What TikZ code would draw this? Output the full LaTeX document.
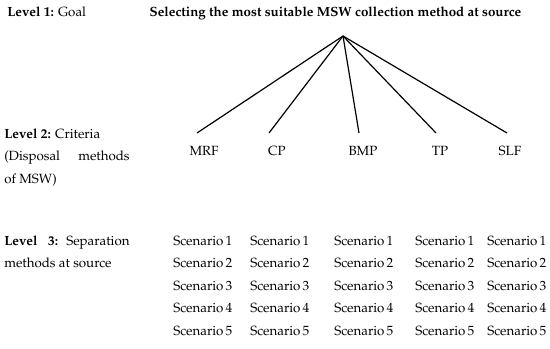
\documentclass[tikz,border=0pt]{standalone}
\usepackage[T1]{fontenc}
\usepackage{mathpazo}
\usetikzlibrary{positioning,calc}

\begin{document}
\begin{tikzpicture}[x=0.75pt, y=-0.75pt, font=\fontsize{10}{16.8}\selectfont]
  \tikzstyle{lvl}=[anchor=north west, inner sep=0pt, text width=94pt, align=justify]
  \tikzstyle{crit}=[anchor=base, inner sep=0pt]
  \tikzstyle{scen}=[anchor=base west, inner sep=0pt]
  \tikzstyle{branch}=[draw=black, line width=0.9pt]
  \useasboundingbox (0,0) rectangle (550,349);
  % level 1: goal
  \node[anchor=base west, inner sep=0pt] (lvl1) at (7,17) {\textbf{Level 1:} Goal};
  \node[crit] (goal) at (335.5,17) {\textbf{Selecting the most suitable MSW collection method at source}};
  \coordinate (apex) at (343,36);
  % level 2: criteria
  \node[lvl] (lvl2) at (4,128.5) {\textbf{Level 2:} Criteria\\(Disposal methods\linebreak of MSW)};
  \node[crit] (mrf) at (204,156) {MRF};
  \node[crit] (cp) at (277,156) {CP};
  \node[crit] (bmp) at (363,156) {BMP};
  \node[crit] (tp) at (440,156) {TP};
  \node[crit] (slf) at (510,156) {SLF};
  \draw[branch] (apex) -- ($(mrf.base)+(-7,-23)$);
  \draw[branch] (apex) -- ($(cp.base)+(-8,-23)$);
  \draw[branch] (apex) -- ($(bmp.base)+(-4,-23)$);
  \draw[branch] (apex) -- ($(tp.base)+(-4,-23)$);
  \draw[branch] (apex) -- ($(slf.base)+(-3,-23)$);
  % level 3: separation methods
  \node[lvl] (lvl3) at (4,235.5) {\textbf{Level\ \ 3:} Separation\linebreak methods at source};
  \foreach \c/\cx in {1/173,2/250,3/334,4/415,5/487}
    \foreach \r in {1,...,5}
      \node[scen] (sc-\c-\r) at (\cx,{245+22.5*(\r-1)}) {Scenario\,\r};
\end{tikzpicture}
\end{document}
